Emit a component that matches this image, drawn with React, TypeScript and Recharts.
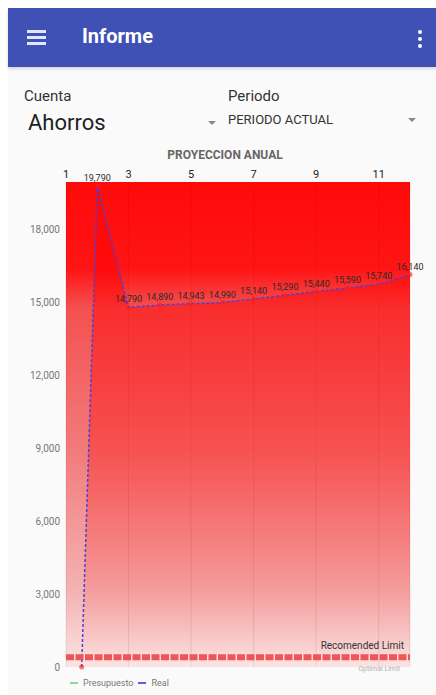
import React from 'react';
import {
  ComposedChart,
  Area,
  XAxis,
  YAxis,
  CartesianGrid,
  ReferenceLine,
  LabelList,
} from 'recharts';

// x position of each point (month) and the "Real" values
const months = [1.5, 2, 3, 4, 5, 6, 7, 8, 9, 10, 11, 12];
const realValues = [0, 19790, 14790, 14890, 14943, 14990, 15140, 15290, 15440, 15590, 15740, 16140];

const xTicks = [1, 3, 5, 7, 9, 11];
const yTicks = [0, 3000, 6000, 9000, 12000, 15000, 18000];

const recommendedLimit = 400;
const limitLabel = 'Recomended Limit';
const lowerLabel = 'Optimal Limit';

const legendNames = ['Presupuesto', 'Real'];
const legendColors = ['#8fd88f', '#5560e0'];

const chartData = months.map((m, i) => ({ month: m, real: realValues[i] }));

const FONT = 'Roboto, "Noto Sans", sans-serif';

const fmt = (v: number) => (v ? v.toLocaleString('en-US') : '');

const LimitLabel = ({ viewBox }: any) => {
  if (!viewBox) return null;
  return (
    <text
      x={viewBox.x + viewBox.width - 6}
      y={viewBox.y - 8}
      textAnchor="end"
      fontSize={10}
      fill="#333"
      fontFamily={FONT}
    >
      {limitLabel}
    </text>
  );
};

const LowerLabel = ({ viewBox }: any) => {
  if (!viewBox) return null;
  return (
    <text
      x={viewBox.x + viewBox.width - 10}
      y={viewBox.y + 4}
      textAnchor="end"
      fontSize={7}
      fill="#b0b0b0"
      fontFamily={FONT}
    >
      {lowerLabel}
    </text>
  );
};

function ProjectionChart() {
  return (
    <ComposedChart
      width={436}
      height={520}
      data={chartData}
      margin={{ top: 0, right: 26, left: 0, bottom: 13 }}
    >
      <defs>
        <linearGradient id="bgGrad" x1="0" y1="0" x2="0" y2="1">
          <stop offset="0%" stopColor="#ff0a0a" />
          <stop offset="18%" stopColor="#ff1515" />
          <stop offset="26%" stopColor="#f45050" />
          <stop offset="55%" stopColor="#f27a7a" />
          <stop offset="85%" stopColor="#f4b4b4" />
          <stop offset="100%" stopColor="#fbe4e4" />
        </linearGradient>
        <linearGradient id="realGrad" x1="0" y1="0" x2="0" y2="1">
          <stop offset="0%" stopColor="#ff0000" stopOpacity={0.85} />
          <stop offset="25%" stopColor="#ff0000" stopOpacity={0.72} />
          <stop offset="55%" stopColor="#ff0000" stopOpacity={0.55} />
          <stop offset="72%" stopColor="#ff0000" stopOpacity={0.35} />
          <stop offset="100%" stopColor="#ff0000" stopOpacity={0} />
        </linearGradient>
      </defs>
      <CartesianGrid
        horizontal={false}
        fill="url(#bgGrad)"
        stroke="#800000"
        strokeOpacity={0.1}
      />
      <XAxis
        dataKey="month"
        type="number"
        orientation="top"
        domain={[1, 12]}
        ticks={xTicks}
        interval={0}
        height={22}
        axisLine={false}
        tickLine={false}
        tickSize={0}
        tickMargin={4}
        tick={{ fontSize: 11, fill: '#222', fontFamily: FONT }}
      />
      <YAxis
        type="number"
        domain={[0, 19950]}
        ticks={yTicks}
        width={66}
        axisLine={false}
        tickLine={false}
        tickSize={0}
        tickMargin={6}
        tickFormatter={(v: number) => v.toLocaleString('en-US')}
        tick={{ fontSize: 10, fill: '#777', fontFamily: FONT }}
      />
      <ReferenceLine
        y={recommendedLimit}
        stroke="#ec5656"
        strokeWidth={6}
        strokeDasharray="8 1.5"
        label={<LimitLabel />}
      />
      <ReferenceLine y={0} stroke="none" label={<LowerLabel />} />
      <Area
        type="linear"
        dataKey="real"
        stroke="#4b40d8"
        strokeWidth={1.5}
        strokeDasharray="3 2"
        fill="url(#realGrad)"
        dot={{ r: 2.5, fill: '#ff1a1a', stroke: 'none' }}
        activeDot={false}
        isAnimationActive={false}
      >
        <LabelList
          dataKey="real"
          position="top"
          offset={5}
          formatter={fmt}
          style={{ fontSize: 9, fill: '#2a2a2a', fontFamily: FONT }}
        />
      </Area>
    </ComposedChart>
  );
}

export default function App() {
  return (
    <div
      style={{
        position: 'absolute',
        left: 0,
        top: 0,
        width: 436,
        height: 695,
        overflow: 'hidden',
        background: '#fff',
        fontFamily: FONT,
      }}
    >
      <div style={{ position: 'absolute', left: 8, top: 67, width: 428, height: 628, background: '#fafafa' }} />
      {/* app bar */}
      <div
        style={{
          position: 'absolute',
          left: 8,
          top: 8,
          width: 428,
          height: 59,
          background: '#3f51b5',
          boxShadow: '0 2px 3px rgba(0,0,0,0.15)',
        }}
      >
        {[22, 28, 34].map((t) => (
          <div
            key={t}
            style={{ position: 'absolute', left: 19, top: t, width: 19, height: 2.5, background: '#e3e6ff' }}
          />
        ))}
        <div style={{ position: 'absolute', left: 74, top: 16, fontSize: 20, fontWeight: 700, color: '#fff' }}>
          Informe
        </div>
        {[22, 29, 36].map((t) => (
          <div
            key={t}
            style={{ position: 'absolute', left: 410, top: t, width: 4, height: 4, borderRadius: 2, background: '#fff' }}
          />
        ))}
      </div>

      <div style={{ position: 'absolute', left: 24, top: 87, fontSize: 15, color: '#333' }}>Cuenta</div>
      <div style={{ position: 'absolute', left: 28, top: 110, fontSize: 22, color: '#222' }}>Ahorros</div>
      <div style={{ position: 'absolute', left: 228, top: 87, fontSize: 15, color: '#333' }}>Periodo</div>
      <div style={{ position: 'absolute', left: 228, top: 112, fontSize: 13, color: '#333' }}>PERIODO ACTUAL</div>
      <div
        style={{
          position: 'absolute', left: 208, top: 121, width: 0, height: 0,
          borderLeft: '4px solid transparent', borderRight: '4px solid transparent', borderTop: '4px solid #888',
        }}
      />
      <div
        style={{
          position: 'absolute', left: 408, top: 118, width: 0, height: 0,
          borderLeft: '4px solid transparent', borderRight: '4px solid transparent', borderTop: '4px solid #888',
        }}
      />
      <div
        style={{
          position: 'absolute', left: 0, width: 436, top: 148, textAlign: 'center',
          fontSize: 12, fontWeight: 700, color: '#666', paddingLeft: 14, boxSizing: 'border-box',
        }}
      >
        PROYECCION ANUAL
      </div>

      <div style={{ position: 'absolute', left: 0, top: 160 }}>
        <ProjectionChart />
      </div>

      {/* legend */}
      <div style={{ position: 'absolute', left: 70, top: 678, display: 'flex', alignItems: 'center', fontSize: 9, color: '#777' }}>
        {legendNames.map((name, i) => (
          <div key={name} style={{ display: 'flex', alignItems: 'center', marginRight: 5 }}>
            <div style={{ width: 8, height: 2, background: legendColors[i], marginRight: 5 }} />
            <span>{name}</span>
          </div>
        ))}
      </div>
    </div>
  );
}
